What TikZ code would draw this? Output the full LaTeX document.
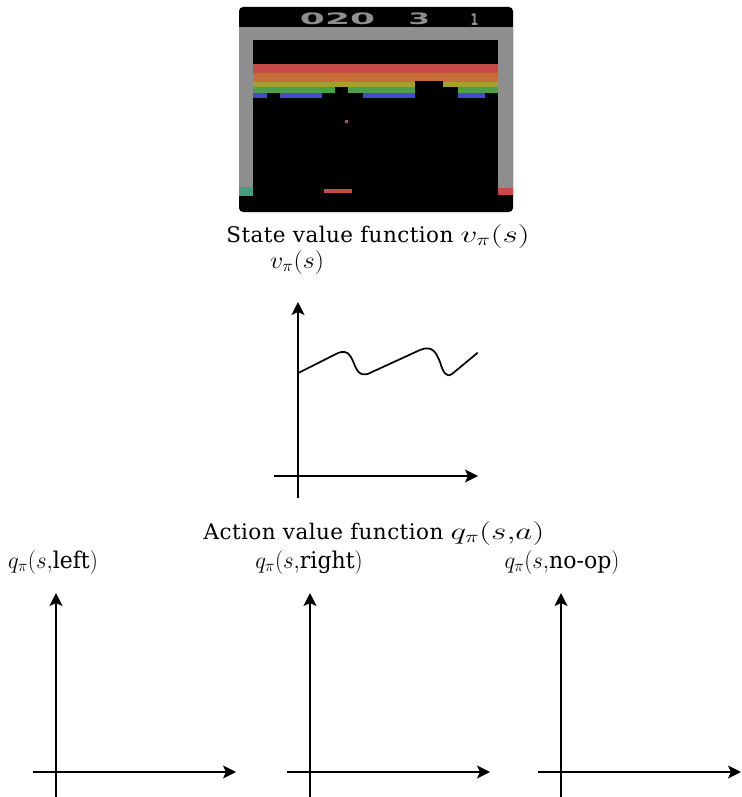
\documentclass[tikz,border=0pt]{standalone}
\usepackage{amsmath}
\usepackage{fontspec}
\setmainfont{DejaVu Serif}
\newfontfamily\scorefont{DejaVu Sans}
\usetikzlibrary{arrows.meta}

\definecolor{framegray}{RGB}{142,142,142}
\definecolor{brickred}{RGB}{200,74,70}
\definecolor{brickorange}{RGB}{198,110,58}
\definecolor{brickyellow}{RGB}{160,162,44}
\definecolor{brickgreen}{RGB}{76,160,76}
\definecolor{brickblue}{RGB}{66,76,196}
\definecolor{brickaqua}{RGB}{66,158,128}

% math set a little larger and wider than usual
\newcommand{\widemath}[2][1.3]{\scalebox{#1}[1.15]{$#2$}}

\tikzset{
  axis/.style={line width=1.7pt, -{Stealth[length=13pt,width=13pt,inset=3pt]}},
  heading/.style={font=\fontsize{21.5}{26}\selectfont\addfontfeatures{LetterSpace=2},
    inner sep=0pt, anchor=base},
  axlabel/.style={font=\fontsize{20}{24}\selectfont, inner sep=0pt, anchor=base},
  score/.style={text=framegray, font=\scorefont\bfseries, inner sep=0pt},
}

\begin{document}
\begin{tikzpicture}[x=1pt, y=-1pt]
	\useasboundingbox (0,0) rectangle (741,797);
	
	% game screen
	\fill[black, rounded corners=4pt] (239,7) rectangle (513,212);
	\fill[framegray] (239,27) rectangle (513,40);
	\fill[framegray] (239,40) rectangle (253,187);
	\fill[framegray] (498,40) rectangle (513,188);
	\fill[brickaqua] (239,187) rectangle (253,196);
	\fill[brickred] (498,188) rectangle (513,195);
	
	\node[score] (points) at (337.5,19.2) {\resizebox{75pt}{11.7pt}{020}};
	\node[score] (lives) at (419.2,19.2) {\resizebox{21.7pt}{11.7pt}{3}};
	\node[score] (level) at (474.5,19.2) {\resizebox{7.6pt}{11.7pt}{1}};
	
	% brick rows, top to bottom
	\foreach \col/\top/\bot in {brickred/64.3/72.7, brickorange/72.7/81.7,
		brickyellow/81.7/87.3, brickgreen/87.3/92.7, brickblue/92.7/98.3}
	\fill[\col] (253,\top) rectangle (498,\bot);
	
	% knocked out bricks
	\fill[black] (267,92.7) rectangle (280,98.5);
	\fill[black] (322,92.7) rectangle (363,98.5);
	\fill[black] (335,87.3) rectangle (348,98.5);
	\fill[black] (415,81.5) rectangle (443,98.5);
	\fill[black] (443,87.3) rectangle (458,98.5);
	\fill[black] (485,92.7) rectangle (498,98.5);
	
	% ball and paddle
	\fill[brickred] (345,120) rectangle (348.3,122.7);
	\fill[brickred] (324.3,189.3) rectangle (352.3,192.7);
	
	% state value
	\node[heading] (vtitle) at (378,242) {State value function \widemath[1.6]{v_\pi(s)}};
	\node[axlabel] (vlabel) at (297,268) {\widemath[1.25]{v_\pi(s)}};
	
	\coordinate (vbot) at (298,498);
	\coordinate (vtop) at (298,302);
	\coordinate (vleft) at (274,476);
	\coordinate (vright) at (478,476);
	\draw[axis] (vbot) -- (vtop);
	\draw[axis] (vleft) -- (vright);
	
	\draw[line width=1.7pt] (297.7,373.3) -- (338,353)
		.. controls (348,349) and (351,356) .. (355,366)
		.. controls (359,376) and (365,376) .. (372,372) -- (420,350)
		.. controls (432,345) and (436,352) .. (440,362)
		.. controls (443,372) and (446,378) .. (452,374) -- (477.7,352.7);
	
	% action values
	\node[heading] (qtitle) at (374,539) {Action value function \widemath[1.6]{q_\pi(s{,}a)}};
	
	\foreach \x/\act [count=\i] in {53/left, 309/right, 562/no-op}{
		\node[axlabel] (qlabel\i) at (\x,568) {\widemath[1.1]{q_\pi(s{,}\text{\act})}};
	}
	\foreach \x [count=\i] in {56,310,561}{
		\coordinate (qbot\i) at (\x,797);
		\coordinate (qtop\i) at (\x,593);
		\coordinate (qleft\i) at (\x-23,772);
		\coordinate (qright\i) at (\x+180,772);
		\draw[axis] (qbot\i) -- (qtop\i);
		\draw[axis] (qleft\i) -- (qright\i);
	}
	
\end{tikzpicture}
\end{document}
